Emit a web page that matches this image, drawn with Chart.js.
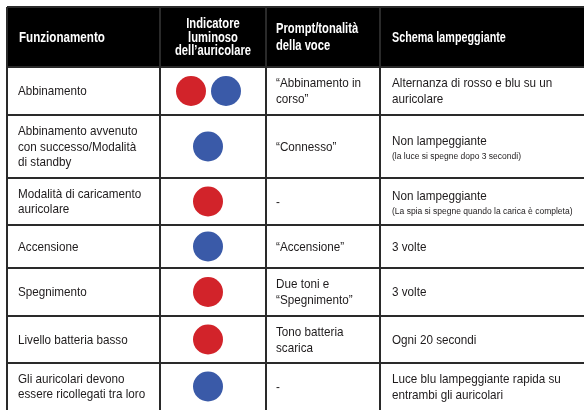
<!DOCTYPE html>
<html>
<head>
<meta charset="utf-8">
<script src="https://cdn.jsdelivr.net/npm/chart.js"></script>
<style>
  html, body { margin: 0; padding: 0; background: #fff; }
  canvas { display: block; }
</style>
</head>
<body>
<canvas id="tabella" width="584" height="410"></canvas>
<script>
// contenuto della tabella
const intestazioni = ['Funzionamento', 'Indicatore\nluminoso\ndell\u2019auricolare', 'Prompt/tonalità\ndella voce', 'Schema lampeggiante'];
const funzionamento = [
  'Abbinamento',
  'Abbinamento avvenuto\ncon successo/Modalità\ndi standby',
  'Modalità di caricamento\nauricolare',
  'Accensione',
  'Spegnimento',
  'Livello batteria basso',
  'Gli auricolari devono\nessere ricollegati tra loro'
];
const indicatore = [['rosso', 'blu'], ['blu'], ['rosso'], ['blu'], ['rosso'], ['rosso'], ['blu']];
const prompt = [
  '\u201cAbbinamento in\ncorso\u201d',
  '\u201cConnesso\u201d',
  '-',
  '\u201cAccensione\u201d',
  'Due toni e\n\u201cSpegnimento\u201d',
  'Tono batteria\nscarica',
  '-'
];
const schema = [
  'Alternanza di rosso e blu su un\nauricolare',
  'Non lampeggiante',
  'Non lampeggiante',
  '3 volte',
  '3 volte',
  'Ogni 20 secondi',
  'Luce blu lampeggiante rapida su\nentrambi gli auricolari'
];
const note = ['', '(la luce si spegne dopo 3 secondi)', '(La spia si spegne quando la carica è completa)', '', '', '', ''];

// layout (unità della scala = pixel dalla cornice della tabella)
const colonne = [0, 153, 259, 373];
const righe = [0, 60, 108, 171, 218, 261, 309, 356, 403];
const colori = { rosso: '#d2232a', blu: '#3a5aa8' };
const bordo = '#2a2a2a';
const fontTesto = '13.5px "Liberation Sans", Arial, sans-serif';
const fontNota = '8.5px "Liberation Sans", Arial, sans-serif';
const fontTitolo = 'bold 14px "Liberation Sans", Arial, sans-serif';

const centro = (i) => (righe[i + 1] + righe[i + 2]) / 2;

const punti = [];
const coloriPunti = [];
indicatore.forEach((luci, i) => {
  luci.forEach((luce, k) => {
    const dx = luci.length === 1 ? 0 : (k === 0 ? -17 : 18);
    punti.push({ x: 201 + dx, y: centro(i) });
    coloriPunti.push(colori[luce]);
  });
});

// testo condensato: scala orizzontale come il carattere "condensed" originale
function scriviRighe(ctx, testo, x, yc, passo, sx, align) {
  const linee = testo.split('\n');
  ctx.textAlign = align || 'left';
  linee.forEach((l, j) => {
    ctx.save();
    ctx.translate(x, yc + (j - (linee.length - 1) / 2) * passo);
    ctx.scale(sx, 1);
    ctx.fillText(l, 0, 0);
    ctx.restore();
  });
}

const testoTabella = {
  id: 'testoTabella',
  beforeDraw(chart) {
    const { ctx, chartArea, scales: { y } } = chart;
    ctx.save();
    ctx.fillStyle = '#fff';
    ctx.fillRect(0, 0, chart.width, chart.height);
    ctx.fillStyle = '#000';
    ctx.fillRect(chartArea.left, y.getPixelForValue(righe[0]), chartArea.right - chartArea.left,
      y.getPixelForValue(righe[1]) - y.getPixelForValue(righe[0]));
    ctx.restore();
  },
  afterDatasetsDraw(chart) {
    const { ctx, scales: { x, y } } = chart;
    ctx.save();
    ctx.textBaseline = 'middle';
    // intestazione
    ctx.fillStyle = '#fff';
    ctx.font = fontTitolo;
    const yh = y.getPixelForValue((righe[0] + righe[1]) / 2) + 1.5;
    scriviRighe(ctx, intestazioni[0], x.getPixelForValue(colonne[0] + 12), yh, 15, 0.83);
    scriviRighe(ctx, intestazioni[1], x.getPixelForValue((colonne[1] + colonne[2]) / 2), yh - 0.5, 13.5, 0.8, 'center');
    scriviRighe(ctx, intestazioni[2], x.getPixelForValue(colonne[2] + 10), yh - 0.5, 17, 0.8);
    scriviRighe(ctx, intestazioni[3], x.getPixelForValue(colonne[3] + 12), yh, 15, 0.77);
    // corpo
    ctx.fillStyle = '#1e1b1c';
    funzionamento.forEach((t, i) => {
      const yc = y.getPixelForValue(centro(i)) + 0.5;
      ctx.font = fontTesto;
      scriviRighe(ctx, t, x.getPixelForValue(colonne[0] + 11), yc, 15.5, 0.865);
      scriviRighe(ctx, prompt[i], x.getPixelForValue(colonne[2] + 10), yc, 16, 0.865);
      if (note[i]) {
        scriviRighe(ctx, schema[i], x.getPixelForValue(colonne[3] + 12), yc - 6, 16, 0.865);
        ctx.font = fontNota;
        scriviRighe(ctx, note[i], x.getPixelForValue(colonne[3] + 12), yc + 10, 10, 1.0);
      } else {
        scriviRighe(ctx, schema[i], x.getPixelForValue(colonne[3] + 12), yc, 16, 0.865);
      }
    });
    ctx.restore();
  }
};

new Chart(document.getElementById('tabella').getContext('2d'), {
  type: 'scatter',
  data: {
    datasets: [{
      data: punti,
      pointRadius: 15,
      pointHoverRadius: 15,
      pointBorderWidth: 0,
      pointBackgroundColor: coloriPunti,
      pointBorderColor: coloriPunti,
      clip: false
    }]
  },
  options: {
    responsive: false,
    animation: false,
    events: [],
    layout: { autoPadding: false, padding: { left: 7, top: 7, right: 0, bottom: 0 } },
    plugins: { legend: { display: false }, tooltip: { enabled: false } },
    scales: {
      x: {
        type: 'linear', min: 0, max: 577,
        afterBuildTicks: (ax) => { ax.ticks = colonne.map(v => ({ value: v })); },
        ticks: { display: false },
        grid: { color: bordo, lineWidth: 2, drawTicks: false },
        border: { display: false }
      },
      y: {
        type: 'linear', min: 0, max: 403, reverse: true,
        afterBuildTicks: (ax) => { ax.ticks = righe.slice(0, -1).map(v => ({ value: v })); },
        ticks: { display: false },
        grid: { color: bordo, lineWidth: 2, drawTicks: false },
        border: { display: false }
      }
    }
  },
  plugins: [testoTabella]
});
</script>
</body>
</html>
